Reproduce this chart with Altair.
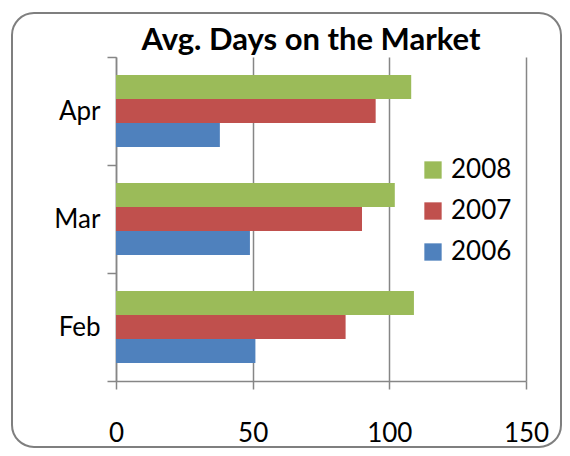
import altair as alt
import pandas as pd

months = ["Feb", "Mar", "Apr"]
years = ["2006", "2007", "2008"]
v2006 = [51, 49, 38]
v2007 = [84, 90, 95]
v2008 = [109, 102, 108]
x_ticks = [0, 50, 100, 150]
colors = {"2008": "#9BBB59", "2007": "#C0504D", "2006": "#4F81BD"}

rows = []
for yr, vals in zip(years, [v2006, v2007, v2008]):
    for m, v in zip(months, vals):
        rows.append({"Month": m, "Year": yr, "Days": v})
df = pd.DataFrame(rows)

FONT = "Lato"
GRAY = "#868686"
order_years = ["2008", "2007", "2006"]

bars = alt.Chart(df).mark_bar().encode(
    y=alt.Y("Month:N", sort=["Apr", "Mar", "Feb"], title=None,
            scale=alt.Scale(paddingInner=0, paddingOuter=0),
            axis=alt.Axis(labelFontSize=26, labelFont=FONT, labelColor="black",
                          tickSize=9, tickColor=GRAY, tickWidth=1.5,
                          domainColor=GRAY, domainWidth=1.5,
                          tickBand="extent", labelPadding=7)),
    yOffset=alt.YOffset("Year:N", sort=order_years,
                        scale=alt.Scale(paddingInner=0, paddingOuter=0.75)),
    x=alt.X("Days:Q", title=None,
            scale=alt.Scale(domain=[0, 150], nice=False),
            axis=alt.Axis(values=x_ticks, labelFontSize=26, labelFont=FONT,
                          labelColor="black", tickSize=8, tickColor=GRAY,
                          tickWidth=1.5, domainColor=GRAY, domainWidth=1.5,
                          grid=True, gridColor=GRAY, gridWidth=1.5,
                          labelPadding=31, labelFlush=False)),
    color=alt.Color("Year:N",
                    scale=alt.Scale(domain=order_years,
                                    range=[colors[y] for y in order_years]),
                    legend=alt.Legend(title=None, orient="none", legendX=304,
                                      legendY=100, symbolType="square",
                                      symbolSize=300, symbolStrokeWidth=0,
                                      labelFontSize=26, labelFont=FONT,
                                      labelColor="black", rowPadding=15,
                                      labelOffset=5, padding=0)),
)

border = alt.Chart(pd.DataFrame({"a": [0]})).mark_rect(
    fillOpacity=0, stroke="#7f7f7f", strokeWidth=2, cornerRadius=22
).encode(
    x=alt.value(-104), x2=alt.value(445), y=alt.value(-44), y2=alt.value(390)
)

chart = alt.layer(bars, border).properties(
    width=410, height=324,
    title=alt.TitleParams("Avg. Days on the Market", font=FONT, fontSize=31,
                          fontWeight="bold", color="black", offset=-45,
                          frame="group", dx=-10),
    padding={"left": 3, "top": 4, "right": 0, "bottom": 0},
    background="white",
).configure_view(stroke=None)

chart.save("out.html", embed_options={"renderer": "svg", "actions": False})
